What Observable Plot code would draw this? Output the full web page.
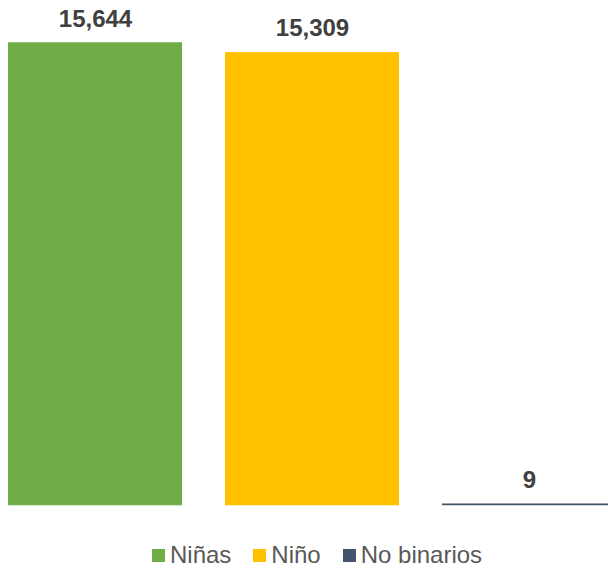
<!DOCTYPE html>
<html>
<head>
<meta charset="utf-8">
<script src="https://cdn.jsdelivr.net/npm/d3@7"></script>
<script src="https://cdn.jsdelivr.net/npm/@observablehq/plot@0.6"></script>
<style>
  html, body { margin: 0; padding: 0; background: #fff; overflow: hidden; }
  #chart svg { display: block; overflow: hidden; }
  .legend { position: absolute; left: 152px; top: 541px; display: flex; align-items: center;
    font-family: "Liberation Sans", Arial, sans-serif; font-size: 24px; color: #595959; }
  .legend .item { display: flex; align-items: center; margin-right: 22px; }
  .legend .sw { width: 13px; height: 13px; margin-right: 5px; }
</style>
</head>
<body>
<div id="chart"></div>
<div class="legend" id="legend"></div>
<script>
const categories = ["Niñas", "Niño", "No binarios"];
const values = [15644, 15309, 9];
const colors = ["#70AD47", "#FFC000", "#44546A"];

const data = categories.map((c, i) => ({category: c, value: values[i]}));

const chart = Plot.plot({
  width: 608,
  height: 525,
  marginLeft: 0, marginRight: 0, marginTop: 0, marginBottom: 0,
  style: {fontFamily: "'Liberation Sans', Arial, sans-serif", background: "#fff"},
  x: {domain: categories, range: [8, 616], paddingInner: 0.2, paddingOuter: 0, axis: null},
  y: {domain: [0, d3.max(values)], range: [504.5, 43], axis: null},
  color: {domain: categories, range: colors},
  marks: [
    Plot.barY(data, {x: "category", y: "value", fill: "category", stroke: "category", strokeWidth: 1.5,
      insetLeft: 0.75, insetRight: 0.75}),
    Plot.text(data, {
      x: "category", y: "value",
      text: d => d3.format(",")(d.value),
      lineAnchor: "bottom", dy: -17,
      fontSize: 24, fontWeight: "bold", fill: "#404040"
    })
  ]
});
document.getElementById("chart").appendChild(chart);

const legend = document.getElementById("legend");
categories.forEach((c, i) => {
  const item = document.createElement("div");
  item.className = "item";
  const sw = document.createElement("span");
  sw.className = "sw";
  sw.style.background = colors[i];
  const label = document.createElement("span");
  label.textContent = c;
  item.appendChild(sw);
  item.appendChild(label);
  legend.appendChild(item);
});
</script>
</body>
</html>
